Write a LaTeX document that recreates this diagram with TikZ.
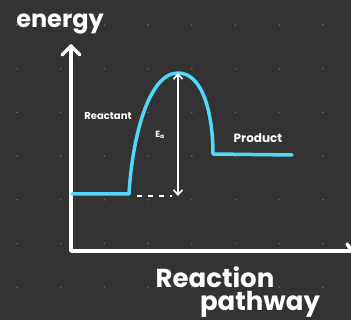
\documentclass[tikz,border=0pt]{standalone}
\usepackage{fontspec}
\setmainfont{Poppins}
\usetikzlibrary{arrows.meta}
\definecolor{bg}{HTML}{333333}
\definecolor{cyanline}{HTML}{4FD8F7}
\definecolor{dotc}{HTML}{6A6A6A}
\begin{document}
\begin{tikzpicture}[x=1pt,y=-1pt,
  axis/.style={white,line width=3.5pt,line cap=round,line join=round},
  curve/.style={cyanline,line width=3.5pt,line cap=round,line join=round},
  lbl/.style={white,font=\bfseries,inner sep=0pt}]
\fill[bg] (0,0) rectangle (351,320);
\useasboundingbox (0,0) rectangle (351,320);
% grid dots
\foreach \i in {0,...,7}{\foreach \j in {0,...,6}{
  \fill[dotc] ({17+43.7*\i},{25+43.7*\j}) circle (0.9pt);}}
% axes
\coordinate (origin) at (71,251);
\coordinate (ytop) at (71,46);
\coordinate (xend) at (352,251);
\draw[axis] (ytop) -- (origin) -- (xend);
\draw[axis] (62,55) -- (ytop) -- (80,55);
\draw[axis] (347,244) -- (352,251);
% energy curve
\coordinate (r0) at (72,194);
\coordinate (r1) at (129,194);
\coordinate (peak) at (178,73);
\coordinate (p0) at (213,154);
\coordinate (p1) at (292,155);
\draw[curve] (r0) -- (r1)
  .. controls (132,140) and (148,73) .. (peak)
  .. controls (205,73) and (213,120) .. (p0) -- (p1);
% Ea arrow
\coordinate (eabot) at (178,196);
\draw[white,line width=1.6pt,{Straight Barb[length=5pt,width=9pt]}-{Straight Barb[length=5pt,width=9pt]}] (peak) -- (eabot);
\coordinate (dl) at (137,196);
\draw[white,line width=2pt,dash pattern=on 5pt off 6pt] (dl) -- (172,196);
% labels
\node[lbl,font=\bfseries\fontsize{24}{26}\selectfont] (energy) at (60,24) {energy};
\node[lbl,font=\bfseries\fontsize{10}{11}\selectfont] (reactant) at (108,116) {Reactant};
\node[lbl,font=\bfseries\fontsize{9}{10}\selectfont] (ea) at (160,135) {E\textsubscript{a}};
\node[lbl,font=\bfseries\fontsize{12}{13}\selectfont] (product) at (258,138) {Product};
\node[lbl,font=\bfseries\fontsize{26}{28}\selectfont] (reaction) at (215,277) {Reaction};
\node[lbl,font=\bfseries\fontsize{26}{28}\selectfont] (pathway) at (260,304) {pathway};
\end{tikzpicture}
\end{document}
